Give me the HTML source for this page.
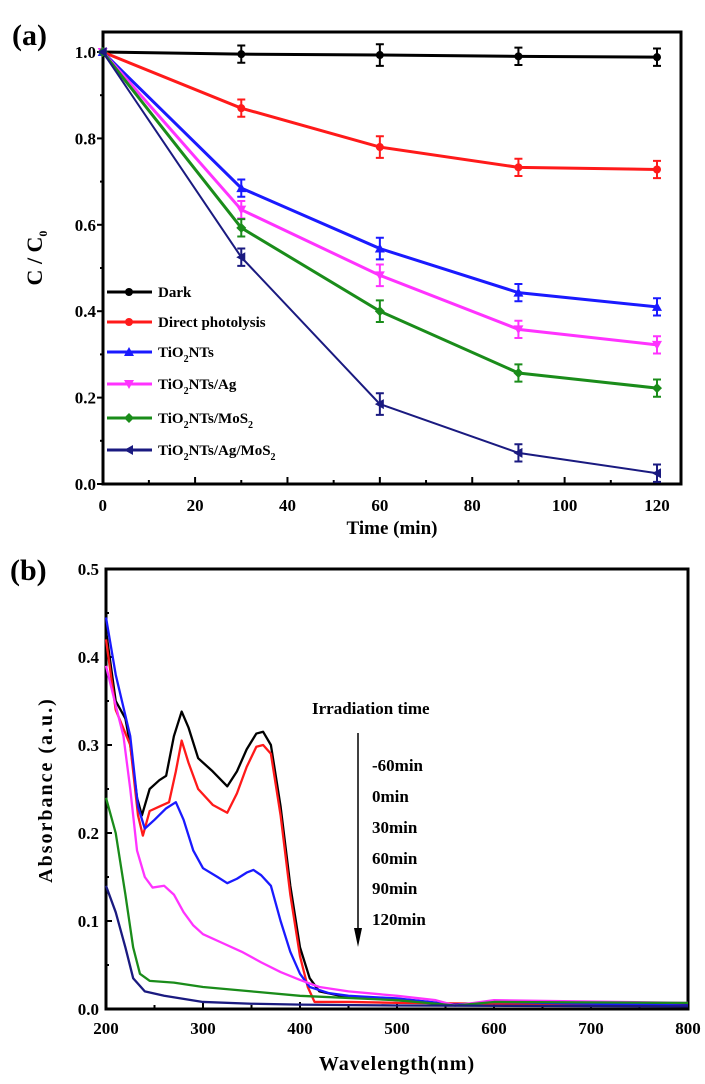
<!DOCTYPE html>
<html><head><meta charset="utf-8">
<style>
html,body{margin:0;padding:0;background:#fff;}
svg{display:block;font-family:"Liberation Serif",serif;font-weight:bold;}
</style></head>
<body>
<svg id="fig" width="705" height="1084" viewBox="0 0 705 1084">
<text x="12" y="45" font-size="30">(a)</text>
<text x="10" y="580" font-size="30">(b)</text>
<g id="ga"></g>
<g id="gb"></g>
</svg>
<script>
// ===== Chart A data =====
const timesA = [0, 30, 60, 90, 120];
const seriesNamesA = ["Dark", "Direct photolysis", "TiO2NTs", "TiO2NTs/Ag", "TiO2NTs/MoS2", "TiO2NTs/Ag/MoS2"];
const darkVals = [1, 0.995, 0.993, 0.99, 0.988];
const photolysisVals = [1, 0.87, 0.78, 0.733, 0.728];
const tio2Vals = [1, 0.685, 0.545, 0.443, 0.41];
const tio2AgVals = [1, 0.635, 0.483, 0.358, 0.322];
const tio2MoS2Vals = [1, 0.593, 0.40, 0.257, 0.222];
const tio2AgMoS2Vals = [1, 0.525, 0.185, 0.072, 0.025];
const errA = [0, 0.02, 0.025, 0.02, 0.02];
const xTicksA = [0, 20, 40, 60, 80, 100, 120];
const yTicksA = [0.0, 0.2, 0.4, 0.6, 0.8, 1.0];

// ===== Chart B data =====
const blackWl = [200,210,220,225,232,237,245,255,262,270,278,285,295,310,325,335,345,355,362,370,380,390,400,410,420,450,480,500,560,600,800];
const blackAbs = [0.43,0.35,0.33,0.30,0.24,0.22,0.25,0.26,0.265,0.31,0.338,0.32,0.285,0.27,0.253,0.27,0.295,0.313,0.315,0.30,0.23,0.14,0.07,0.035,0.02,0.013,0.012,0.01,0.005,0.008,0.005];
const redWl = [200,210,225,233,238,245,255,265,272,278,285,295,310,325,335,345,355,362,370,380,390,400,408,415,450,500,800];
const redAbs = [0.42,0.34,0.30,0.22,0.197,0.225,0.23,0.235,0.27,0.305,0.28,0.25,0.232,0.223,0.245,0.275,0.298,0.30,0.29,0.22,0.13,0.06,0.025,0.008,0.008,0.007,0.004];
const blueWl = [200,210,225,233,240,250,262,272,280,290,300,315,325,335,345,352,360,370,380,390,400,410,430,450,500,560,600,800];
const blueAbs = [0.445,0.38,0.31,0.23,0.205,0.215,0.228,0.235,0.215,0.18,0.16,0.15,0.143,0.148,0.155,0.158,0.152,0.14,0.10,0.065,0.04,0.025,0.018,0.015,0.012,0.005,0.008,0.004];
const magentaWl = [200,210,218,225,232,240,248,260,270,280,290,300,320,340,360,380,400,420,450,500,540,560,600,800];
const magentaAbs = [0.39,0.345,0.31,0.25,0.18,0.15,0.138,0.14,0.13,0.11,0.095,0.085,0.075,0.065,0.053,0.042,0.033,0.025,0.02,0.015,0.01,0.004,0.01,0.007];
const greenWl = [200,210,220,228,235,245,270,300,350,400,500,560,600,800];
const greenAbs = [0.24,0.20,0.13,0.07,0.04,0.032,0.03,0.025,0.02,0.015,0.01,0.004,0.008,0.007];
const navyWl = [200,210,220,228,240,260,300,350,400,500,800];
const navyAbs = [0.14,0.11,0.07,0.035,0.02,0.015,0.008,0.006,0.005,0.004,0.003];
const timeLabelsB = ["-60min","0min","30min","60min","90min","120min"];
const xTicksB = [200, 300, 400, 500, 600, 700, 800];
const yTicksB = [0.0, 0.1, 0.2, 0.3, 0.4, 0.5];

const NS = "http://www.w3.org/2000/svg";
function mk(parent, tag, attrs, text){
  const e = document.createElementNS(NS, tag);
  for (const k in attrs) e.setAttribute(k, attrs[k]);
  if (text !== undefined) e.textContent = text;
  parent.appendChild(e);
  return e;
}

// ---------- Chart A ----------
const ga = document.getElementById('ga');
const A = {x0:103, x1:681, yTop:32, yZero:484, yOne:52};
const xA = t => 102.7 + t * (657 - 102.7) / 120;
const yA = v => A.yZero - v * (A.yZero - A.yOne);

let fr = mk(ga,'rect',{x:A.x0,y:A.yTop,width:A.x1-A.x0,height:A.yZero-A.yTop,fill:'none',stroke:'#000','stroke-width':3});


for (let t = 0; t <= 120; t += 10) {
  const len = (t % 20 === 0) ? 7 : 4;
  const tk = mk(ga,'line',{x1:xA(t),x2:xA(t),y1:A.yZero,y2:A.yZero-len,stroke:'#000','stroke-width':2});
  
  
}
xTicksA.forEach(t => {
  const lb = mk(ga,'text',{x:xA(t),y:511,'font-size':17,'text-anchor':'middle'}, String(t));
  
  
});
for (let i = 0; i <= 10; i++) {
  const v = i / 10;
  const len = (i % 2 === 0) ? 6 : 3;
  const tk = mk(ga,'line',{x1:A.x0-len,x2:A.x0,y1:yA(v),y2:yA(v),stroke:'#000','stroke-width':2});
  
  
}
yTicksA.forEach(v => {
  const lb = mk(ga,'text',{x:96,y:yA(v)+6,'font-size':17,'text-anchor':'end'}, v.toFixed(1));
  
  
});
let xt = mk(ga,'text',{x:392,y:534,'font-size':19,'text-anchor':'middle'},'Time (min)');


let yt = mk(ga,'text',{x:0,y:0,'font-size':22,'text-anchor':'middle',transform:'translate(42,258) rotate(-90)'});


yt.innerHTML = 'C / C<tspan font-size="12" dy="5">0</tspan>';

const colorsA = ['#000000','#ff1a1a','#1a1aff','#ff33ff','#1a8c1a','#1a1a80'];
const valsA = [darkVals, photolysisVals, tio2Vals, tio2AgVals, tio2MoS2Vals, tio2AgMoS2Vals];
const markerA = ['circle','circle','up','down','diamond','left'];
function marker(g, type, x, y, c){
  let m;
  if (type === 'circle') m = mk(g,'circle',{cx:x,cy:y,r:4,fill:c});
  else {
    let p;
    if (type==='up') p=[[x,y-5],[x-5,y+4],[x+5,y+4]];
    else if (type==='down') p=[[x,y+5],[x-5,y-4],[x+5,y-4]];
    else if (type==='diamond') p=[[x,y-5],[x+5,y],[x,y+5],[x-5,y]];
    else p=[[x-5,y],[x+4,y-5],[x+4,y+5]];
    m = mk(g,'polygon',{points:p.map(q=>q.join(',')).join(' '),fill:c});
  }
  return m;
}
valsA.forEach((vals, si) => {
  const c = colorsA[si];
  const g = mk(ga,'g',{});
  
  
  const ln = mk(g,'polyline',{points:timesA.map((t,i)=>xA(t)+','+yA(vals[i])).join(' '),fill:'none',stroke:c,'stroke-width':si===5?2:3});
  
  
  timesA.forEach((t,i) => {
    if (errA[i] > 0) {
      const x = xA(t), y1 = yA(vals[i]+errA[i]), y2 = yA(vals[i]-errA[i]);
      const eb = mk(g,'path',{d:`M${x},${y1}V${y2}M${x-4},${y1}H${x+4}M${x-4},${y2}H${x+4}`,stroke:c,'stroke-width':2,fill:'none'});
      
      
    }
    const m = marker(g, markerA[si], xA(t), yA(vals[i]), c);
    
    
  });
});
// legend
const legY = [292, 322, 352, 384, 418, 450];
const legLabels = ['Dark','Direct photolysis','TiO<tspan font-size="10" dy="5">2</tspan><tspan dy="-5">NTs</tspan>','TiO<tspan font-size="10" dy="5">2</tspan><tspan dy="-5">NTs/Ag</tspan>','TiO<tspan font-size="10" dy="5">2</tspan><tspan dy="-5">NTs/MoS</tspan><tspan font-size="10" dy="5">2</tspan>','TiO<tspan font-size="10" dy="5">2</tspan><tspan dy="-5">NTs/Ag/MoS</tspan><tspan font-size="10" dy="5">2</tspan>'];
legY.forEach((y, i) => {
  const g = mk(ga,'g',{});
  
  
  mk(g,'line',{x1:107,x2:152,y1:y,y2:y,stroke:colorsA[i],'stroke-width':3});
  marker(g, markerA[i], 129, y, colorsA[i]);
  const t = mk(g,'text',{x:158,y:y+5,'font-size':15});
  t.innerHTML = legLabels[i];
});

// ---------- Chart B ----------
const gb = document.getElementById('gb');
const B = {x0:106, x1:688, yTop:569, yZero:1009};
const xB = w => 106 + (w - 200) * (688 - 106) / 600;
const yB = v => B.yZero - v * (B.yZero - B.yTop) / 0.5;
let frb = mk(gb,'rect',{x:B.x0,y:B.yTop,width:B.x1-B.x0,height:B.yZero-B.yTop,fill:'none',stroke:'#000','stroke-width':3});


for (let w = 200; w <= 800; w += 50) {
  const len = (w % 100 === 0) ? 7 : 4;
  const tk = mk(gb,'line',{x1:xB(w),x2:xB(w),y1:B.yZero,y2:B.yZero-len,stroke:'#000','stroke-width':2});
  
  
}
xTicksB.forEach(w => {
  const lb = mk(gb,'text',{x:xB(w),y:1034,'font-size':17,'text-anchor':'middle'}, String(w));
  
  
});
for (let i = 0; i <= 10; i++) {
  const v = i * 0.05;
  const len = (i % 2 === 0) ? 6 : 3;
  const tk = mk(gb,'line',{x1:B.x0,x2:B.x0+len,y1:yB(v),y2:yB(v),stroke:'#000','stroke-width':2});
  
  
}
yTicksB.forEach(v => {
  const lb = mk(gb,'text',{x:99,y:yB(v)+6,'font-size':17,'text-anchor':'end'}, v.toFixed(1));
  
  
});
let xtb = mk(gb,'text',{x:397,y:1070,'font-size':20,'text-anchor':'middle','letter-spacing':'1'},'Wavelength(nm)');


let ytb = mk(gb,'text',{x:0,y:0,'font-size':20,'text-anchor':'middle','letter-spacing':'2',transform:'translate(52,790) rotate(-90)'},'Absorbance (a.u.)');



const spectra = [[blackWl,blackAbs,'#000000'],[redWl,redAbs,'#ff1a1a'],[blueWl,blueAbs,'#1a1aff'],[magentaWl,magentaAbs,'#ff33ff'],[greenWl,greenAbs,'#1a8c1a'],[navyWl,navyAbs,'#1a1a80']];
spectra.forEach((s, si) => {
  const pl = mk(gb,'polyline',{points:s[0].map((w,i)=>xB(w)+','+yB(s[1][i])).join(' '),fill:'none',stroke:s[2],'stroke-width':2.3,'stroke-linejoin':'round'});
  
  
});
let irr = mk(gb,'text',{x:312,y:714,'font-size':17},'Irradiation time');


let arr = mk(gb,'path',{d:'M358,733V935',stroke:'#000','stroke-width':1.5,fill:'none'});


let ah = mk(gb,'polygon',{points:'354,928 362,928 358,947',fill:'#000'});


const labY = [771, 802, 833, 864, 894, 925];
timeLabelsB.forEach((t, i) => {
  const lb = mk(gb,'text',{x:372,y:labY[i],'font-size':17}, t);
  
  
});
</script>
</body></html>
